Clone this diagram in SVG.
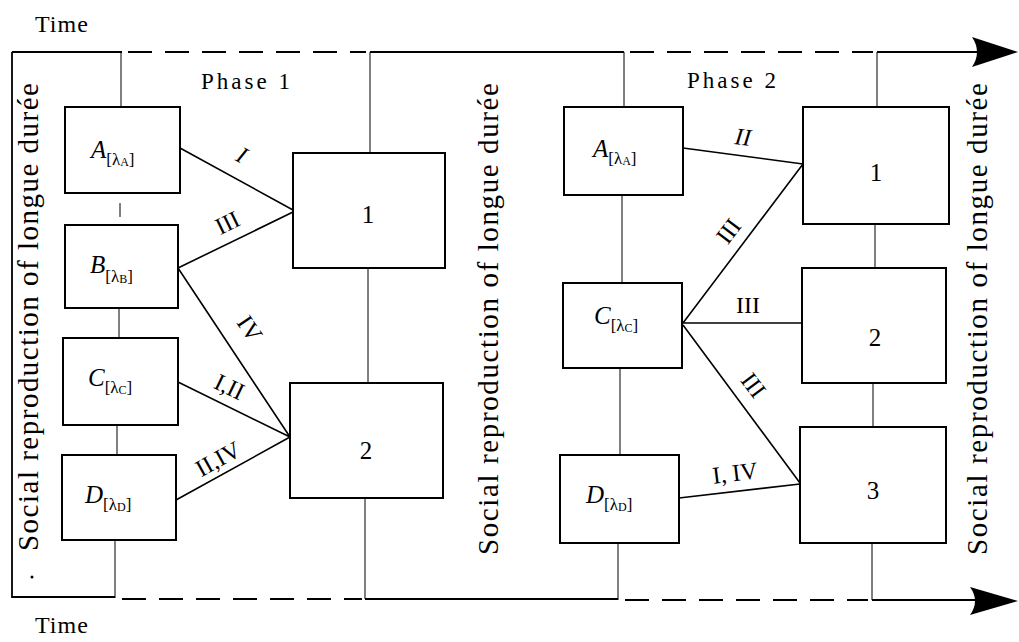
<svg xmlns="http://www.w3.org/2000/svg" width="1019" height="642" viewBox="0 0 1019 642">
<defs>
<style>
text{font-family:"Liberation Serif","Times New Roman",serif;fill:#000}
.box{fill:#fff;stroke:#000;stroke-width:2}
.thin{stroke:#000;stroke-width:1;fill:none}
.edge{stroke:#000;stroke-width:1.6;fill:none}
.axis{stroke:#000;stroke-width:1.8;fill:none}
.dash{stroke:#000;stroke-width:1.8;fill:none;stroke-dasharray:24 13}
.lbl{font-size:25px;font-style:italic}
.sub{font-size:17px;font-style:normal}
.ss{font-size:12px;font-style:normal}
.num{font-size:25px;text-anchor:middle}
.el{font-size:24px;text-anchor:middle}
.vt{font-size:29px}
.ph{font-size:23px;letter-spacing:3px}
</style>
</defs>
<rect width="1019" height="642" fill="#fff"/>

<g id="time-axes">
<path class="axis" d="M12,52 H122 M370,52 H624 M877,52 H980"/>
<path class="dash" d="M128,52 H366 M630,52 H873"/>
<path d="M1018,52 L972,37 Q982,52 972,67 Z" fill="#000"/>
<path class="axis" d="M12,52 V597 H115"/>
<path class="dash" d="M122,599 H362 M625,600 H868"/>
<path class="axis" d="M365,599 H618 M872,600 H975"/>
<path d="M1018,601 L970,587 Q980,601 970,615 Z" fill="#000"/>
<text x="35" y="32" style="font-size:24px;letter-spacing:1px">Time</text>
<text x="35" y="633" style="font-size:24px;letter-spacing:1px">Time</text>
<text class="ph" x="201" y="89">Phase 1</text>
<text class="ph" x="687" y="88">Phase 2</text>
<text class="vt" transform="translate(38,551) rotate(-90)" textLength="468">Social reproduction of longue durée</text>
<circle cx="32" cy="577" r="1.5" fill="#000"/>
<text class="vt" transform="translate(498,555) rotate(-90)" textLength="472">Social reproduction of longue durée</text>
<text class="vt" transform="translate(987,555) rotate(-90)" textLength="472">Social reproduction of longue durée</text>
</g>

<g id="connectors">
<path class="thin" d="M121,52 V107 M120,203 V217 M119,308 V338 M117,425 V455 M115,540 V598"/>
<path class="thin" d="M370,52 V153 M368,268 V383 M365,498 V599"/>
<path class="thin" d="M624,52 V107 M622,195 V283 M620,368 V455 M618,543 V600"/>
<path class="thin" d="M877,52 V107 M875,224 V268 M873,383 V427 M872,543 V600"/>
<path class="edge" d="M180,148 L293,210 M178,268 L293,212 M178,268 L290,437 M178,382 L290,437 M176,500 L290,437"/>
<path class="edge" d="M683,148 L803,164 M683,323 L803,164 M683,323 L802,323 M683,325 L800,483 M679,498 L800,484"/>
<text class="el" style="font-style:italic" transform="translate(238,162) rotate(29)">I</text>
<text class="el" transform="translate(231,230) rotate(-26)">III</text>
<text class="el" transform="translate(243,333) rotate(56)">IV</text>
<text class="el" transform="translate(226,394) rotate(26)">I,II</text>
<text class="el" transform="translate(222,466) rotate(-29)">II,IV</text>
<text class="el" style="font-style:italic" transform="translate(742,145) rotate(7)">II</text>
<text class="el" transform="translate(735,236) rotate(-53)">III</text>
<text class="el" x="748" y="313">III</text>
<text class="el" transform="translate(747,390) rotate(53)">III</text>
<text class="el" transform="translate(736,481) rotate(-7)">I, IV</text>
</g>

<g id="p1-A"><rect class="box" x="65" y="107" width="115" height="86"/><text class="lbl" x="91" y="158">A<tspan class="sub" dy="7">[λ</tspan><tspan class="ss" dy="1">A</tspan><tspan class="sub" dy="-1">]</tspan></text></g>
<g id="p1-B"><rect class="box" x="65" y="225" width="113" height="83"/><text class="lbl" x="90" y="273">B<tspan class="sub" dy="9">[λ</tspan><tspan class="ss" dy="1">B</tspan><tspan class="sub" dy="-1">]</tspan></text></g>
<g id="p1-C"><rect class="box" x="63" y="338" width="115" height="87"/><text class="lbl" x="88" y="386">C<tspan class="sub" dy="7">[λ</tspan><tspan class="ss" dy="1">C</tspan><tspan class="sub" dy="-1">]</tspan></text></g>
<g id="p1-D"><rect class="box" x="62" y="455" width="114" height="85"/><text class="lbl" x="85" y="503">D<tspan class="sub" dy="7">[λ</tspan><tspan class="ss" dy="1">D</tspan><tspan class="sub" dy="-1">]</tspan></text></g>
<g id="p1-1"><rect class="box" x="293" y="153" width="152" height="115"/><text class="num" x="368" y="223">1</text></g>
<g id="p1-2"><rect class="box" x="290" y="383" width="153" height="115"/><text class="num" x="366" y="459">2</text></g>

<g id="p2-A"><rect class="box" x="564" y="107" width="119" height="88"/><text class="lbl" x="593" y="157">A<tspan class="sub" dy="7">[λ</tspan><tspan class="ss" dy="1">A</tspan><tspan class="sub" dy="-1">]</tspan></text></g>
<g id="p2-C"><rect class="box" x="563" y="283" width="119" height="85"/><text class="lbl" x="594" y="324">C<tspan class="sub" dy="7">[λ</tspan><tspan class="ss" dy="1">C</tspan><tspan class="sub" dy="-1">]</tspan></text></g>
<g id="p2-D"><rect class="box" x="560" y="455" width="119" height="88"/><text class="lbl" x="586" y="503">D<tspan class="sub" dy="7">[λ</tspan><tspan class="ss" dy="1">D</tspan><tspan class="sub" dy="-1">]</tspan></text></g>
<g id="p2-1"><rect class="box" x="803" y="107" width="146" height="117"/><text class="num" x="876" y="181">1</text></g>
<g id="p2-2"><rect class="box" x="802" y="268" width="144" height="115"/><text class="num" x="875" y="346">2</text></g>
<g id="p2-3"><rect class="box" x="800" y="427" width="146" height="116"/><text class="num" x="873" y="499">3</text></g>
</svg>
